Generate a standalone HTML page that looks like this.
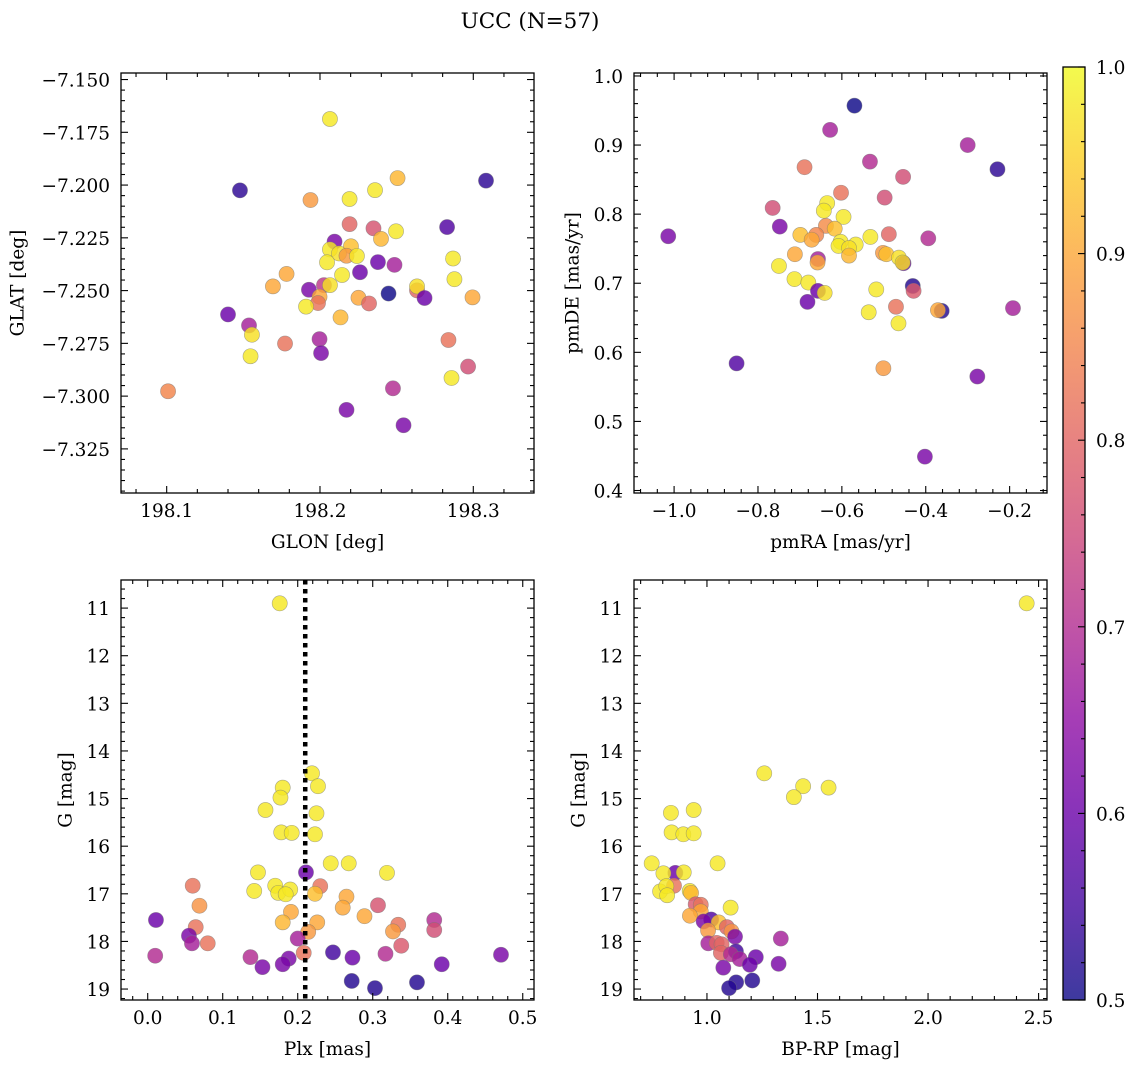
<!DOCTYPE html>
<html><head><meta charset="utf-8">
<style>
html,body{margin:0;padding:0;background:#fff;}
svg{display:block;font-family:"DejaVu Serif","Liberation Serif",serif;}
</style></head>
<body>
<svg id="fig" width="1136" height="1067" viewBox="0 0 1136 1067" xmlns="http://www.w3.org/2000/svg">
<defs>
<linearGradient id="plasma" x1="0" y1="1" x2="0" y2="0">
<stop offset="0" stop-color="#0d0887"/><stop offset="0.1" stop-color="#41049d"/><stop offset="0.2" stop-color="#6a00a8"/><stop offset="0.3" stop-color="#8f0da4"/><stop offset="0.4" stop-color="#b12a90"/><stop offset="0.5" stop-color="#cc4778"/><stop offset="0.6" stop-color="#e16462"/><stop offset="0.7" stop-color="#f2844b"/><stop offset="0.8" stop-color="#fca636"/><stop offset="0.9" stop-color="#fcce25"/><stop offset="1" stop-color="#f0f921"/>
</linearGradient>
</defs>
<text x="530" y="28" text-anchor="middle" font-size="21.5">UCC (N=57)</text>
</svg>
<script>
// Panel 1: GLON / GLAT
const glon=[198.2065,198.1478,198.3083,198.2506,198.2359,198.1938,198.2193,198.2193,198.2349,198.2496,198.2829,198.2398,198.2095,198.2065,198.2202,198.2124,198.2173,198.2241,198.2046,198.2378,198.2486,198.2868,198.2144,198.2261,198.1782,198.1693,198.1928,198.2026,198.2065,198.1997,198.1987,198.1909,198.2251,198.2320,198.2447,198.2633,198.2633,198.2682,198.2877,198.2995,198.2134,198.1400,198.1537,198.1556,198.1772,198.1997,198.2007,198.1547,198.2838,198.2966,198.2858,198.2476,198.2173,198.2545,198.1009];
const glat=[-7.1687,-7.2025,-7.1979,-7.1967,-7.2024,-7.2071,-7.2066,-7.2185,-7.2205,-7.2219,-7.2199,-7.2255,-7.2268,-7.2305,-7.2290,-7.2324,-7.2335,-7.2336,-7.2366,-7.2365,-7.2378,-7.2348,-7.2426,-7.2413,-7.2421,-7.2480,-7.2496,-7.2474,-7.2474,-7.2529,-7.2559,-7.2576,-7.2534,-7.2561,-7.2514,-7.2499,-7.2480,-7.2535,-7.2446,-7.2532,-7.2627,-7.2613,-7.2665,-7.2709,-7.2751,-7.2730,-7.2796,-7.2811,-7.2734,-7.2860,-7.2914,-7.2963,-7.3065,-7.3138,-7.2977];
const probGal=[0.98,0.53,0.53,0.92,0.98,0.88,0.98,0.80,0.77,0.98,0.57,0.92,0.62,0.98,0.93,0.97,0.88,0.98,0.98,0.60,0.68,0.98,0.98,0.60,0.90,0.90,0.62,0.72,0.97,0.90,0.82,0.98,0.90,0.80,0.50,0.80,0.97,0.60,0.98,0.90,0.92,0.60,0.68,0.97,0.82,0.68,0.62,0.98,0.82,0.76,0.98,0.70,0.62,0.62,0.85];
// Panel 2: proper motions
const pmra=[-0.570,-0.628,-0.300,-0.229,-0.689,-0.533,-0.454,-0.602,-0.498,-0.765,-0.635,-0.643,-0.596,-0.748,-1.014,-0.638,-0.617,-0.699,-0.661,-0.672,-0.488,-0.394,-0.532,-0.603,-0.608,-0.567,-0.583,-0.583,-0.712,-0.750,-0.657,-0.658,-0.502,-0.494,-0.464,-0.453,-0.455,-0.713,-0.680,-0.657,-0.641,-0.682,-0.518,-0.431,-0.429,-0.536,-0.471,-0.465,-0.362,-0.371,-0.192,-0.851,-0.501,-0.277,-0.402];
const pmde=[0.957,0.922,0.900,0.865,0.868,0.876,0.854,0.831,0.824,0.809,0.816,0.805,0.796,0.782,0.768,0.783,0.779,0.770,0.770,0.763,0.771,0.765,0.767,0.760,0.754,0.756,0.751,0.740,0.742,0.725,0.735,0.730,0.744,0.742,0.737,0.729,0.730,0.706,0.701,0.689,0.686,0.673,0.691,0.696,0.689,0.658,0.666,0.642,0.660,0.661,0.664,0.584,0.577,0.565,0.449];
const probPm=[0.50,0.68,0.68,0.53,0.82,0.70,0.76,0.82,0.76,0.76,0.98,0.98,0.98,0.62,0.62,0.86,0.93,0.93,0.85,0.90,0.80,0.70,0.98,0.98,0.98,0.98,0.97,0.92,0.90,0.98,0.68,0.90,0.88,0.93,0.97,0.60,0.97,0.98,0.98,0.60,0.97,0.60,0.98,0.52,0.78,0.98,0.82,0.98,0.52,0.90,0.68,0.57,0.88,0.62,0.62];
// Panel 3: parallax vs G
const plx=[0.176,0.219,0.227,0.180,0.177,0.157,0.225,0.178,0.192,0.223,0.244,0.268,0.319,0.147,0.211,0.060,0.230,0.142,0.170,0.174,0.190,0.184,0.223,0.265,0.260,0.069,0.307,0.191,0.289,0.011,0.382,0.180,0.226,0.064,0.334,0.327,0.382,0.214,0.055,0.200,0.059,0.080,0.338,0.010,0.137,0.208,0.247,0.273,0.317,0.471,0.188,0.180,0.153,0.392,0.272,0.359,0.303];
const gPlx=[10.90,14.47,14.74,14.77,14.98,15.24,15.31,15.71,15.72,15.75,16.36,16.36,16.56,16.55,16.55,16.83,16.84,16.94,16.83,16.98,16.91,17.01,17.00,17.06,17.29,17.25,17.24,17.38,17.47,17.55,17.55,17.60,17.60,17.70,17.65,17.79,17.76,17.80,17.88,17.94,18.04,18.04,18.09,18.30,18.33,18.24,18.23,18.34,18.26,18.28,18.36,18.48,18.54,18.48,18.83,18.86,18.98];
const probPlx=[0.98,0.98,0.98,0.98,0.98,0.98,0.98,0.98,0.98,0.98,0.98,0.98,0.98,0.98,0.60,0.82,0.82,0.98,0.98,0.98,0.98,0.98,0.93,0.90,0.90,0.87,0.77,0.90,0.90,0.60,0.70,0.92,0.90,0.82,0.82,0.88,0.76,0.88,0.62,0.68,0.68,0.82,0.78,0.70,0.70,0.82,0.55,0.60,0.70,0.62,0.62,0.62,0.62,0.60,0.52,0.52,0.52];
const plxLine=0.210;
// Panel 4: CMD
const bprp=[2.446,1.259,1.435,1.550,1.393,0.837,0.940,0.840,0.893,0.940,0.750,1.048,0.857,0.803,0.895,0.851,0.788,0.816,0.820,0.922,0.928,1.107,0.949,0.972,0.972,0.923,1.019,0.985,1.053,1.090,1.111,1.005,1.127,1.334,1.006,1.044,1.066,1.063,1.131,1.108,1.148,1.221,1.194,1.324,1.074,1.205,1.132,1.100];
const gCmd=[10.90,14.47,14.74,14.77,14.97,15.30,15.24,15.71,15.75,15.73,16.36,16.36,16.56,16.57,16.55,16.83,16.95,16.84,17.03,16.94,16.98,17.29,17.22,17.23,17.37,17.46,17.54,17.58,17.60,17.70,17.79,17.77,17.90,17.94,18.04,18.03,18.06,18.24,18.21,18.27,18.37,18.33,18.49,18.47,18.55,18.82,18.86,18.98];
const probCmd=[0.98,0.98,0.98,0.98,0.98,0.98,0.98,0.98,0.98,0.98,0.98,0.98,0.60,0.98,0.98,0.82,0.98,0.98,0.98,0.98,0.92,0.98,0.78,0.82,0.90,0.90,0.57,0.62,0.93,0.80,0.87,0.88,0.62,0.68,0.68,0.80,0.80,0.80,0.55,0.70,0.68,0.60,0.60,0.62,0.62,0.52,0.52,0.52];
// tick values
const ticksGlon=[198.1,198.2,198.3];
const ticksGlat=[-7.150,-7.175,-7.200,-7.225,-7.250,-7.275,-7.300,-7.325];
const ticksPmra=[-1.0,-0.8,-0.6,-0.4,-0.2];
const ticksPmde=[0.4,0.5,0.6,0.7,0.8,0.9,1.0];
const ticksPlx=[0.0,0.1,0.2,0.3,0.4,0.5];
const ticksG=[11,12,13,14,15,16,17,18,19];
const ticksBprp=[1.0,1.5,2.0,2.5];
const ticksCbar=[0.5,0.6,0.7,0.8,0.9,1.0];

const FS=18.5;
const NS="http://www.w3.org/2000/svg";
const svg=document.getElementById('fig');
function mk(tag,attrs,parent){const e=document.createElementNS(NS,tag);for(const k in attrs)e.setAttribute(k,attrs[k]);(parent||svg).appendChild(e);return e;}
const stops=[[13,8,135],[65,4,157],[106,0,168],[143,13,164],[177,42,144],[204,71,120],[225,100,98],[242,132,75],[252,166,54],[252,206,37],[240,249,33]];
function plasma(c){let t=Math.max(0,Math.min(1,(c-0.5)/0.5))*10;const i=Math.min(9,Math.floor(t)),f=t-i;const a=stops[i],b=stops[i+1];return 'rgb('+a.map((v,k)=>Math.round(v+(b[k]-v)*f)).join(',')+')';}
function fmtMinus(s){return s.replace('-','\u2212');}

function panel(o){
  const [L,T,R,B]=o.box;
  const sx=v=>L+(v-o.xd[0])/(o.xd[1]-o.xd[0])*(R-L);
  const sy=v=>B-(v-o.yd[0])/(o.yd[1]-o.yd[0])*(B-T);
  const g=mk('g',{});
  
  
  const pg=mk('g',{},g);
  
  
  for(let i=0;i<o.xs.length;i++){
    const c=mk('circle',{cx:sx(o.xs[i]),cy:sy(o.ys[i]),r:7.6,fill:plasma(o.cs[i]),'fill-opacity':0.82,stroke:'#777','stroke-opacity':0.6,'stroke-width':0.6},pg);
    
    
  }
  if(o.vline!==undefined){
    const l=mk('line',{x1:sx(o.vline),x2:sx(o.vline),y1:T,y2:B,stroke:'#000','stroke-width':4.5,'stroke-dasharray':'4.5,4.5'},g);
    
    
  }
  const fr=mk('rect',{x:L,y:T,width:R-L,height:B-T,fill:'none',stroke:'#000','stroke-width':1.3},g);
  
  
  const tk=mk('g',{stroke:'#000','stroke-width':1.1},g);
  
  
  const xstep=o.xt[1]-o.xt[0], ystep=o.yt[1]-o.yt[0];
  for(let k=-10;k<=o.xt.length*5+10;k++){
    const v=o.xt[0]+k*xstep/5; const x=sx(v); if(x<L-0.1||x>R+0.1)continue;
    const len=(k%5===0)?7:4;
    mk('line',{x1:x,x2:x,y1:B,y2:B-len},tk);mk('line',{x1:x,x2:x,y1:T,y2:T+len},tk);
  }
  for(let k=-10;k<=o.yt.length*5+10;k++){
    const v=o.yt[0]+k*ystep/5; const y=sy(v); if(y<T-0.1||y>B+0.1)continue;
    const len=(k%5===0)?7:4;
    mk('line',{x1:L,x2:L+len,y1:y,y2:y},tk);mk('line',{x1:R,x2:R-len,y1:y,y2:y},tk);
  }
  o.xt.forEach(v=>{const t=mk('text',{x:sx(v),y:B+24,'text-anchor':'middle','font-size':FS},g);t.textContent=fmtMinus(v.toFixed(o.xf));});
  o.yt.forEach(v=>{const t=mk('text',{x:L-11,y:sy(v)+7,'text-anchor':'end','font-size':FS},g);t.textContent=fmtMinus(v.toFixed(o.yf));});
  const xl=mk('text',{x:(L+R)/2,y:B+55,'text-anchor':'middle','font-size':FS},g);xl.textContent=o.xlab;
  
  const yl=mk('text',{x:o.ylx,y:(T+B)/2,'text-anchor':'middle','dominant-baseline':'central','font-size':FS,transform:'rotate(-90 '+o.ylx+' '+(T+B)/2+')'},g);yl.textContent=o.ylab;
  
}

panel({name:'galactic-panel',box:[121,73,534,493],xd:[198.0702,198.3396],yd:[-7.3459,-7.1469],xt:ticksGlon,yt:ticksGlat.slice().reverse(),xf:1,yf:3,xs:glon,ys:glat,cs:probGal,xlab:'GLON [deg]',ylab:'GLAT [deg]',ylx:18});
panel({name:'proper-motion-panel',box:[634,73,1047,493],xd:[-1.0956,-0.1109],yd:[0.3964,1.0043],xt:ticksPmra,yt:ticksPmde,xf:1,yf:1,xs:pmra,ys:pmde,cs:probPm,xlab:'pmRA [mas/yr]',ylab:'pmDE [mas/yr]',ylx:573});
panel({name:'parallax-panel',box:[121,580,534,1000],xd:[-0.0356,0.515],yd:[19.23,10.41],xt:ticksPlx,yt:ticksG,xf:1,yf:0,xs:plx,ys:gPlx,cs:probPlx,vline:plxLine,xlab:'Plx [mas]',ylab:'G [mag]',ylx:66});
panel({name:'cmd-panel',box:[634,580,1047,1000],xd:[0.670,2.538],yd:[19.23,10.41],xt:ticksBprp,yt:ticksG,xf:1,yf:0,xs:bprp,ys:gCmd,cs:probCmd,xlab:'BP-RP [mag]',ylab:'G [mag]',ylx:579});

// colorbar
const cb=mk('g',{});


const cT=67,cB=1000,cL=1063,cR=1085;
mk('rect',{x:cL,y:cT,width:cR-cL,height:cB-cT,fill:'url(#plasma)','fill-opacity':0.8},cb);
mk('rect',{x:cL,y:cT,width:cR-cL,height:cB-cT,fill:'none',stroke:'#000','stroke-width':1.3},cb);
const cy=v=>cB-(v-0.5)/0.5*(cB-cT);
for(let k=0;k<=25;k++){const v=0.5+k*0.02;const y=cy(v);const len=(k%5===0)?7:4;mk('line',{x1:cR,x2:cR-len,y1:y,y2:y,stroke:'#000','stroke-width':1.1},cb);}
ticksCbar.forEach(v=>{const t=mk('text',{x:1096,y:cy(v)+7,'font-size':FS},cb);t.textContent=v.toFixed(1);});
</script>
</body></html>
